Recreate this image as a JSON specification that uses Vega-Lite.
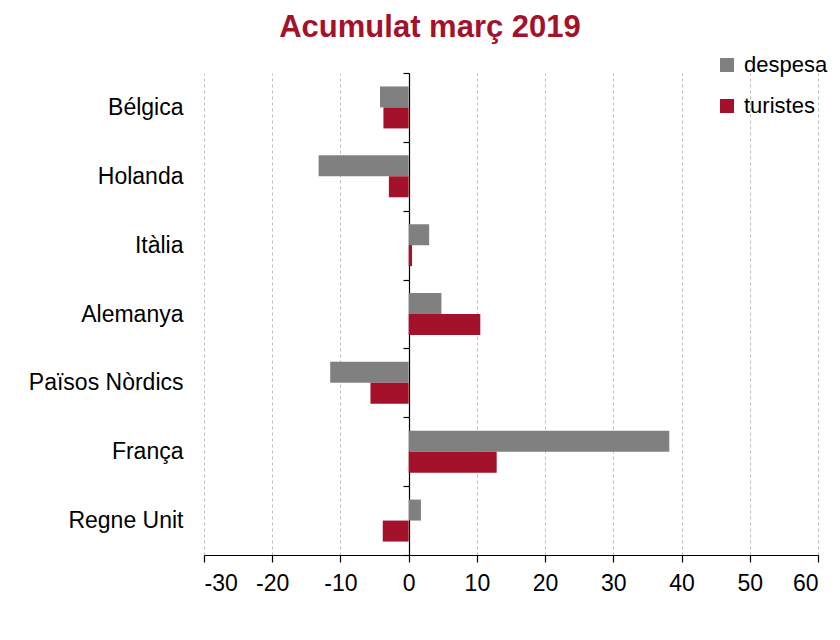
{
  "$schema": "https://vega.github.io/schema/vega-lite/v6.json",
  "autosize": {"type": "none"},
  "width": 614,
  "height": 482,
  "padding": {"left": 204, "top": 73, "right": 22, "bottom": 85},
  "background": "white",
  "title": {
    "text": "Acumulat març 2019",
    "color": "#a3122a",
    "font": "Liberation Sans",
    "fontSize": 31,
    "fontWeight": "bold",
    "anchor": "middle",
    "dx": -81,
    "offset": 10
  },
  "data": {
    "values": [
      {"country": "Bélgica", "series": "despesa", "value": -4.2},
      {"country": "Bélgica", "series": "turistes", "value": -3.7},
      {"country": "Holanda", "series": "despesa", "value": -13.2},
      {"country": "Holanda", "series": "turistes", "value": -2.9},
      {"country": "Itàlia", "series": "despesa", "value": 3.0},
      {"country": "Itàlia", "series": "turistes", "value": 0.5},
      {"country": "Alemanya", "series": "despesa", "value": 4.8},
      {"country": "Alemanya", "series": "turistes", "value": 10.5},
      {"country": "Països Nòrdics", "series": "despesa", "value": -11.5},
      {"country": "Països Nòrdics", "series": "turistes", "value": -5.6},
      {"country": "França", "series": "despesa", "value": 38.2},
      {"country": "França", "series": "turistes", "value": 12.9},
      {"country": "Regne Unit", "series": "despesa", "value": 1.8},
      {"country": "Regne Unit", "series": "turistes", "value": -3.8}
    ]
  },
  "mark": {"type": "bar"},
  "encoding": {
    "x": {
      "field": "value",
      "type": "quantitative",
      "scale": {"domain": [-30, 60], "nice": false, "zero": false},
      "axis": {
        "title": null,
        "values": [-30, -20, -10, 0, 10, 20, 30, 40, 50, 60],
        "labelExpr": "'' + datum.value",
        "grid": true,
        "gridColor": "#bdbdbd",
        "gridDash": [3, 3],
        "gridWidth": 1,
        "domainColor": "#000000",
        "domainWidth": 1.2,
        "tickColor": "#000000",
        "tickSize": 7,
        "tickWidth": 1.2,
        "labelFont": "Liberation Sans",
        "labelFontSize": 23,
        "labelColor": "#000000",
        "labelPadding": 10
      }
    },
    "y": {
      "field": "country",
      "type": "nominal",
      "sort": ["Bélgica", "Holanda", "Itàlia", "Alemanya", "Països Nòrdics", "França", "Regne Unit"],
      "scale": {"paddingInner": 0, "paddingOuter": 0},
      "axis": {
        "title": null,
        "orient": "left",
        "offset": -205,
        "domain": true,
        "domainColor": "#000000",
        "domainWidth": 1.2,
        "ticks": true,
        "tickBand": "extent",
        "tickColor": "#000000",
        "tickSize": 6,
        "tickWidth": 1.2,
        "grid": false,
        "labelFont": "Liberation Sans",
        "labelFontSize": 23,
        "labelColor": "#000000",
        "labelPadding": 220
      }
    },
    "yOffset": {
      "field": "series",
      "type": "nominal",
      "sort": ["despesa", "turistes"],
      "scale": {"paddingInner": 0, "paddingOuter": 0.64}
    },
    "color": {
      "field": "series",
      "type": "nominal",
      "sort": ["despesa", "turistes"],
      "scale": {"domain": ["despesa", "turistes"], "range": ["#808080", "#a3122a"]},
      "legend": {
        "title": null,
        "orient": "none",
        "legendX": 512,
        "legendY": -19,
        "symbolType": "square",
        "symbolSize": 196,
        "symbolStrokeWidth": 0,
        "labelFont": "Liberation Sans",
        "labelFontSize": 22,
        "labelColor": "#000000",
        "labelOffset": 6,
        "rowPadding": 19
      }
    }
  },
  "config": {
    "view": {"stroke": null}
  }
}
